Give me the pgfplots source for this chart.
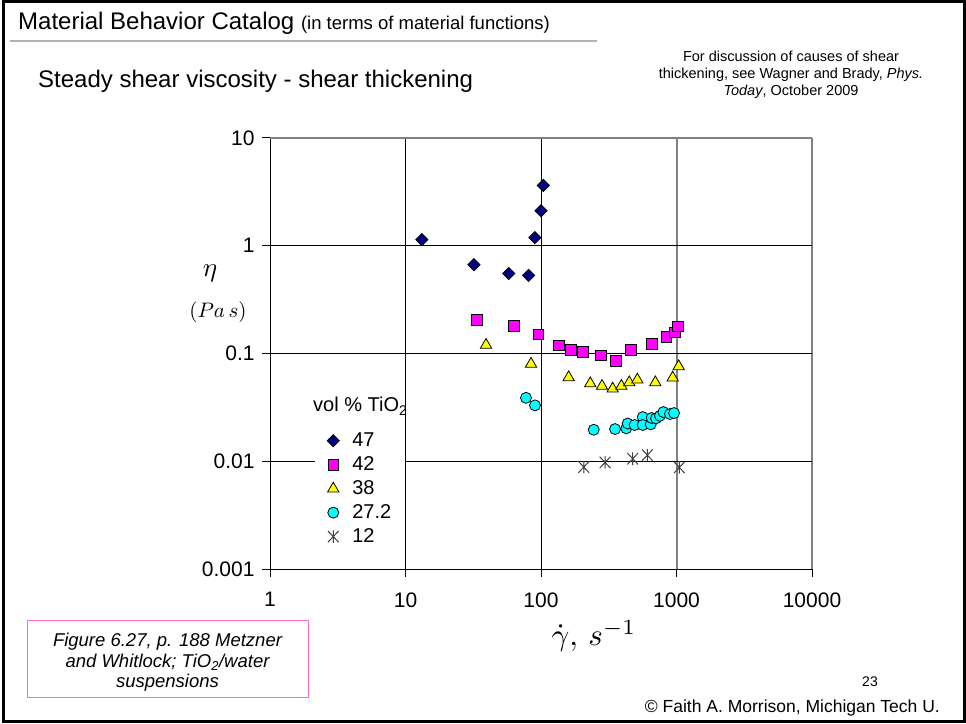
\documentclass[border=0pt]{standalone}
\usepackage{fontspec}
\setmainfont{Liberation Sans}
\usepackage{pgfplots}
\pgfplotsset{compat=1.18}
\definecolor{navyd}{HTML}{000080}
\definecolor{magd}{HTML}{FF00FF}
\definecolor{yeld}{HTML}{FFFF00}
\definecolor{cyad}{HTML}{00FFFF}
\definecolor{grayl}{HTML}{808080}
\definecolor{pinkc}{HTML}{FF66CC}
\pgfdeclareplotmark{xast}{%
 \pgfpathmoveto{\pgfqpoint{0pt}{\pgfplotmarksize}}\pgfpathlineto{\pgfqpoint{0pt}{-\pgfplotmarksize}}%
 \pgfpathmoveto{\pgfqpoint{-.85\pgfplotmarksize}{-.9\pgfplotmarksize}}\pgfpathlineto{\pgfqpoint{.85\pgfplotmarksize}{.9\pgfplotmarksize}}%
 \pgfpathmoveto{\pgfqpoint{-.85\pgfplotmarksize}{.9\pgfplotmarksize}}\pgfpathlineto{\pgfqpoint{.85\pgfplotmarksize}{-.9\pgfplotmarksize}}%
 \pgfusepathqstroke}
\begin{document}
\begin{tikzpicture}
\useasboundingbox (0pt,0pt) rectangle (966pt,723pt);
\draw[line width=3pt] (3.5pt,1.5pt) rectangle (964.5pt,721.5pt);
\node[anchor=base west, inner sep=0, font=\fontsize{24}{28}\selectfont] at (18pt,693pt) {Material Behavior Catalog {\fontsize{18.5}{22}\selectfont (in terms of material functions)}};
\draw[line width=2.5pt, color=gray!60] (10pt,682pt) -- (597pt,682pt);
\node[anchor=base west, inner sep=0, font=\fontsize{24}{28}\selectfont] at (38pt,635pt) {Steady shear viscosity - shear thickening};
\begin{scope}[font=\fontsize{14.5}{17}\selectfont]
\node[anchor=base, inner sep=0] at (791pt,661pt) {For discussion of causes of shear};
\node[anchor=base, inner sep=0] at (791pt,644pt) {thickening, see Wagner and Brady, \textit{Phys.}};
\node[anchor=base, inner sep=0] at (791pt,627pt) {\textit{Today}, October 2009};
\end{scope}
\draw[pinkc, line width=1pt] (27pt,103pt) rectangle (308pt,26pt);
\begin{scope}[font=\fontsize{18.5}{21}\selectfont\itshape]
\node[anchor=base, inner sep=0] at (167.5pt,77pt) {Figure 6.27, p. 188 Metzner};
\node[anchor=base, inner sep=0] at (167.5pt,56pt) {and Whitlock; TiO\textsubscript{2}/water};
\node[anchor=base, inner sep=0] at (167.5pt,36pt) {suspensions};
\end{scope}
\node[anchor=base, inner sep=0, font=\fontsize{14}{17}\selectfont] at (870pt,37pt) {23};
\node[anchor=base east, inner sep=0, font=\fontsize{17.5}{21}\selectfont] at (940pt,11pt) {© Faith A. Morrison, Michigan Tech U.};

\begin{axis}[
  at={(270pt,154pt)}, anchor=south west,
  scale only axis, width=542pt, height=431pt,
  xmode=log, ymode=log,
  xmin=1, xmax=10000, ymin=0.001, ymax=10,
  axis line style={draw=none},
  xtick={1,10,100,1000,10000}, xticklabels={1,10,100,1000,10000},
  ytick={0.001,0.01,0.1,1,10}, yticklabels={0.001,0.01,0.1,1,10},
  minor tick style={draw=none},
  tick align=outside, major tick length=8pt,
  xtick pos=bottom, ytick pos=left,
  tick style={black, line width=1pt},
  ticklabel style={font=\fontsize{21}{24}\selectfont},
  xticklabel style={yshift=-12pt},
  yticklabel style={xshift=-4pt},
  legend style={at={(axis description cs:0.083,0.3225)}, anchor=north west, draw=none, fill=white,
    font=\fontsize{20}{24}\selectfont, inner xsep=12pt, inner ysep=1pt, row sep=4.5pt,
    /tikz/every even column/.append style={column sep=0pt}},
  /tikz/every odd column/.append style={column sep=11pt},
  legend cell align=left,
  clip=false,
]
% grid
\draw[black, line width=1pt] (axis cs:1,0.001) -- (axis cs:1,10);
\draw[black, line width=1pt] (axis cs:10,0.001) -- (axis cs:10,10);
\draw[black, line width=1pt] (axis cs:100,0.001) -- (axis cs:100,10);
\draw[grayl, line width=2pt] (axis cs:1000,0.001) -- (axis cs:1000,10);
\draw[grayl, line width=2pt] (axis cs:10000,0.001) -- (axis cs:10000,10);
\draw[black, line width=1pt] (axis cs:1,0.001) -- (axis cs:10000,0.001);
\draw[black, line width=1pt] (axis cs:1,0.01) -- (axis cs:10000,0.01);
\draw[black, line width=1pt] (axis cs:1,0.1) -- (axis cs:10000,0.1);
\draw[black, line width=1pt] (axis cs:1,1) -- (axis cs:10000,1);
\draw[grayl, line width=2pt] (axis cs:1,10) -- (axis cs:10000,10);

\addplot[only marks, mark=square*, mark size=4.3pt, mark options={rotate=45, fill=navyd, draw=black, line width=0.8pt}]
 coordinates {(13.2,1.14) (32,0.667) (57.8,0.553) (81,0.53) (90,1.19) (100,2.11) (104,3.63)};
\addlegendentry{47}
\addplot[only marks, mark=square*, mark size=5.3pt, mark options={fill=magd, draw=black, line width=0.8pt}]
 coordinates {(33.7,0.206) (62.9,0.18) (95.5,0.151) (135,0.119) (167,0.108) (204,0.103) (276,0.096) (356,0.085) (459,0.108) (659,0.123) (841,0.143) (970,0.157) (1026,0.178)};
\addlegendentry{42}
\addplot[only marks, mark=triangle*, mark size=6.5pt, mark options={fill=yeld, draw=black, line width=0.8pt}]
 coordinates {(39.3,0.12) (84.4,0.08) (160,0.06) (231,0.0527) (282,0.0499) (338,0.0471) (392,0.0499) (448,0.0539) (514,0.0571) (698,0.0539) (937,0.0596) (1038,0.0759)};
\addlegendentry{38}
\addplot[only marks, mark=*, mark size=5.5pt, mark options={fill=cyad, draw=black, line width=0.8pt}]
 coordinates {(77.5,0.0388) (90.3,0.033) (245,0.0196) (352,0.0199) (426,0.0202) (436,0.0224) (491,0.0217) (563,0.0257) (563,0.0217) (645,0.022) (656,0.0252) (706,0.025) (755,0.0264) (800,0.0286) (895,0.0274) (959,0.028)};
\addlegendentry{27.2}
\addplot[only marks, mark=xast, mark size=6.3pt, mark options={draw=black!75, line width=1pt}]
 coordinates {(207,0.00883) (297,0.00975) (475,0.01055) (609,0.0114) (1049,0.00876)};
\addlegendentry{12}
\end{axis}

\node[anchor=base west, inner sep=0, font=\fontsize{20}{24}\selectfont] at (313pt,311pt) {vol \% TiO\textsubscript{2}};
\node[font=\fontsize{10}{12}\selectfont, scale=2.7, inner sep=0] at (210pt,450pt) {$\eta$};
\node[font=\fontsize{10}{12}\selectfont, scale=2.1, inner sep=0] at (218pt,411pt) {$(Pa\,s)$};
\node[font=\fontsize{10}{12}\selectfont, scale=3.1, inner sep=0] at (594pt,87pt) {$\dot{\gamma},\, s^{-1}$};
\end{tikzpicture}
\end{document}
